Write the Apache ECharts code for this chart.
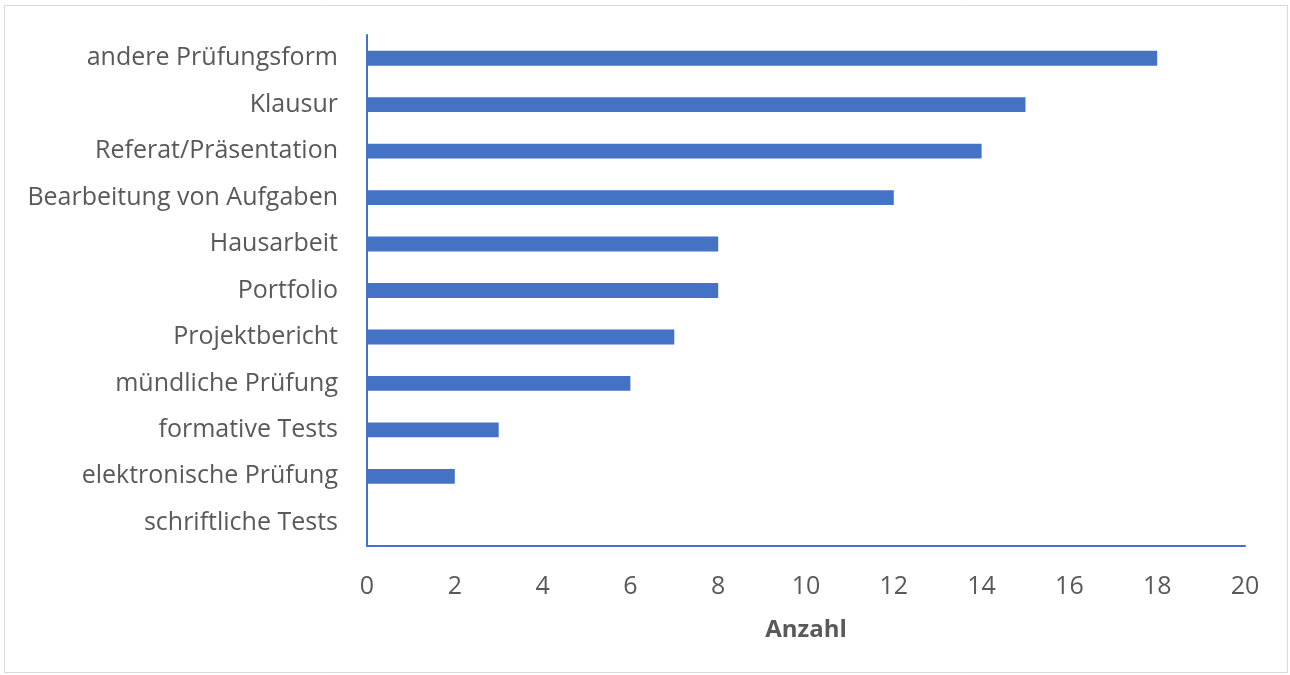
<!DOCTYPE html>
<html><head><meta charset="utf-8">
<script src="https://cdn.jsdelivr.net/npm/echarts@6/dist/echarts.min.js"></script>
<style>html,body{margin:0;padding:0;background:#fff}#c{width:1290px;height:675px}</style>
</head><body><div id="c"></div>
<script>
const categories = ["andere Prüfungsform","Klausur","Referat/Präsentation","Bearbeitung von Aufgaben","Hausarbeit","Portfolio","Projektbericht","mündliche Prüfung","formative Tests","elektronische Prüfung","schriftliche Tests"];
const values = [18,15,14,12,8,8,7,6,3,2,0];
const xTicks = {min:0,max:20,interval:2};
const axisTitle = "Anzahl";
const font = "'Open Sans', sans-serif";
const chart = echarts.init(document.getElementById('c'));
chart.setOption({
  animation:false,
  graphic:[{type:'rect',shape:{x:4.5,y:5.5,width:1283,height:667},style:{fill:'none',stroke:'#d9d9d9',lineWidth:1}}],
  grid:{left:367,right:45,top:35,bottom:129},
  xAxis:{type:'value',min:xTicks.min,max:xTicks.max,interval:xTicks.interval,
    name:axisTitle,nameLocation:'middle',nameGap:72,
    nameTextStyle:{fontFamily:font,fontSize:24,fontWeight:'bold',color:'#595959'},
    axisLine:{show:true,lineStyle:{color:'#4472C4',width:2}},
    axisTick:{show:false},splitLine:{show:false},
    axisLabel:{fontFamily:font,fontSize:25,color:'#595959',margin:28}},
  yAxis:{type:'category',data:categories,inverse:true,
    axisLine:{show:true,lineStyle:{color:'#4472C4',width:2}},
    axisTick:{show:false},
    axisLabel:{fontFamily:font,fontSize:25,color:'#595959',margin:29,padding:[3,0,0,0]}},
  series:[{type:'bar',data:values,barWidth:'32%',itemStyle:{color:'#4472C4'}}]
});
</script></body></html>
